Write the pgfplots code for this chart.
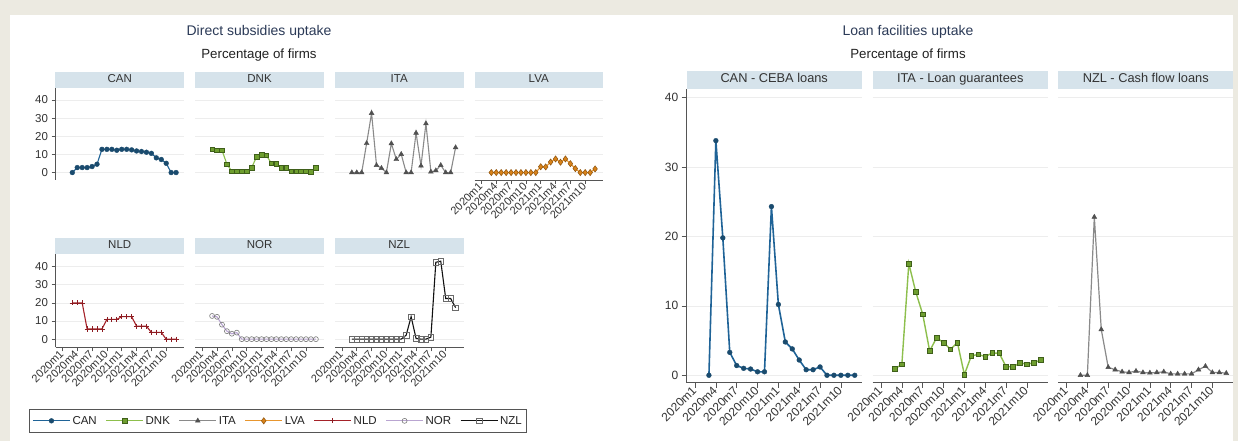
\documentclass[border=0pt]{standalone}
\usepackage{pgfplots}
\pgfplotsset{compat=1.18}
\usepackage{fontspec}
\setmainfont{Liberation Sans}
\definecolor{bg}{HTML}{ECEAE1}
\definecolor{hdr}{HTML}{D6E3EB}
\definecolor{gridc}{HTML}{EDEDED}
\definecolor{axc}{HTML}{555555}
\definecolor{txt}{HTML}{333333}
\definecolor{titc}{HTML}{2B3A57}
\definecolor{subc}{HTML}{222222}
\definecolor{legc}{HTML}{555555}
\definecolor{canl}{HTML}{1F6397}
\definecolor{canm}{HTML}{1A4B6E}
\definecolor{dnkl}{HTML}{8DBF4C}
\definecolor{dnkm}{HTML}{6E9E2F}
\definecolor{dnke}{HTML}{3F5F1A}
\definecolor{ital}{HTML}{8A8A8A}
\definecolor{itam}{HTML}{505050}
\definecolor{lval}{HTML}{E8962E}
\definecolor{lvam}{HTML}{D8821A}
\definecolor{lvae}{HTML}{8C520C}
\definecolor{nldl}{HTML}{A52229}
\definecolor{nldm}{HTML}{8E1C22}
\definecolor{norl}{HTML}{B9A5D1}
\definecolor{norm}{HTML}{7A7A7A}
\definecolor{nzll}{HTML}{111111}
\definecolor{nzlm}{HTML}{6A6A6A}
\pgfplotsset{
  panel/.style={
    scale only axis, anchor=south west, clip=false,
    axis lines*=left, axis line style={-, draw=axc, line width=0.7pt},
    tick style={draw=axc, line width=0.7pt},
    tick align=outside, major tick length=4pt,
    xtick={0,3,...,21},
    xticklabels={2020m1,2020m4,2020m7,2020m10,2021m1,2021m4,2021m7,2021m10},
    ytick={0,10,20,30,40},
    ymajorgrids, major grid style={draw=gridc, line width=0.7pt},
    /pgf/number format/assume math mode=true,
    every axis title/.style={at={(0.5,1)}, anchor=south, fill=hdr, inner sep=0pt, text=txt, text height=0.72em, text depth=0.22em},
    tick label style={text=txt},
  },
  lpanel/.style={panel, width=128.5pt, xmin=-1.4, xmax=24.6,
    title style={minimum width=128.5pt, minimum height=16pt, font=\fontsize{11.5}{13}\selectfont},
    xticklabel style={rotate=45, anchor=east, font=\fontsize{11}{12}\selectfont, inner sep=1pt},
    yticklabel style={font=\fontsize{11.5}{12}\selectfont},
  },
  top/.style={lpanel, height=92pt, ymin=-4.1, ymax=46.6},
  bot/.style={lpanel, height=93.2pt, ymin=-4.6, ymax=46.8},
  rpanel/.style={panel, width=175pt, height=293.4pt, xmin=-1.2, xmax=24, ymin=-1.07, ymax=41.2,
    title style={minimum width=175pt, minimum height=17.6pt, font=\fontsize{12.8}{14}\selectfont},
    xticklabel style={rotate=45, anchor=east, font=\fontsize{12}{14}\selectfont, inner sep=1pt},
    yticklabel style={font=\fontsize{12}{14}\selectfont},
    major tick length=5pt,
  },
  noy/.style={y axis line style={draw=none}, ytick style={draw=none}, yticklabels={}},
  nox/.style={x axis line style={draw=none}, xtick style={draw=none}, xticklabels={}},
  canst/.style={color=canl, line width=1.1pt, mark=*, mark size=2.4pt, mark options={fill=canm, draw=canm, line width=0.4pt}},
  dnkst/.style={color=dnkl, line width=1.1pt, mark=square*, mark size=2.3pt, mark options={fill=dnkm, draw=dnke, line width=0.6pt}},
  itast/.style={color=ital, line width=1.1pt, mark=triangle*, mark size=2.8pt, mark options={fill=itam, draw=itam, line width=0.4pt}},
  lvast/.style={color=lval, line width=1.1pt, mark=diamond*, mark size=3.1pt, mark options={fill=lvam, draw=lvae, line width=0.5pt}},
  nldst/.style={color=nldl, line width=1.1pt, mark=+, mark size=2.6pt, mark options={draw=nldm, line width=0.7pt}},
  norst/.style={color=norl, line width=1.1pt, mark=o, mark size=2.5pt, mark options={draw=norm, fill=white, line width=0.6pt}},
  nzlst/.style={color=nzll, line width=1.1pt, mark=square, mark size=2.8pt, mark options={draw=nzlm, line width=0.6pt}},
}
\begin{document}
\begin{tikzpicture}[x=1pt,y=1pt]
\fill[bg] (0,0) rectangle (1238,441);
\fill[white] (10,0) rectangle (1233,426);
\path[use as bounding box] (0,0) rectangle (1238,441);

\node[font=\fontsize{14}{16}\selectfont, text=titc] at (259,409) {Direct subsidies uptake};
\node[font=\fontsize{13.3}{15}\selectfont, text=subc] at (259,386) {Percentage of firms};
\node[font=\fontsize{14}{16}\selectfont, text=titc] at (908,409) {Loan facilities uptake};
\node[font=\fontsize{13.3}{15}\selectfont, text=subc] at (908,386) {Percentage of firms};

% ---- Direct subsidies: top row
\begin{axis}[top, nox, at={(55.5pt,261pt)}, title={CAN}]
\addplot[canst] coordinates {(2,0) (3,2.75) (4,2.75) (5,2.75) (6,3.3) (7,4.6) (8,12.8) (9,12.8) (10,12.8) (11,12.3) (12,12.8) (13,12.8) (14,12.5) (15,11.9) (16,11.6) (17,11.2) (18,10.6) (19,8.1) (20,7.2) (21,5.1) (22,0) (23,0)};
\end{axis}
\begin{axis}[top, nox, noy, at={(195.3pt,261pt)}, title={DNK}]
\addplot[dnkst] coordinates {(2,12.8) (3,12.3) (4,12.3) (5,4.6) (6,0.7) (7,0.7) (8,0.7) (9,0.7) (10,2.75) (11,8.6) (12,9.9) (13,9.4) (14,5.1) (15,4.8) (16,2.75) (17,2.75) (18,0.7) (19,0.7) (20,0.7) (21,0.7) (22,0.4) (23,2.75)};
\end{axis}
\begin{axis}[top, nox, noy, at={(335pt,261pt)}, title={ITA}]
\addplot[itast] coordinates {(2,0) (3,0) (4,0) (5,16.1) (6,32.7) (7,4.0) (8,2.4) (9,0) (10,16.0) (11,7.3) (12,10.1) (13,0) (14,0) (15,21.8) (16,3.7) (17,27.0) (18,0.4) (19,1.1) (20,4.0) (21,0) (22,0) (23,13.8)};
\end{axis}
\begin{axis}[top, noy, at={(474.5pt,261pt)}, title={LVA}]
\addplot[lvast] coordinates {(2,0) (3,0) (4,0) (5,0) (6,0) (7,0) (8,0) (9,0) (10,0) (11,0) (12,3.2) (13,3.1) (14,5.8) (15,7.5) (16,5.7) (17,7.5) (18,4.9) (19,2.2) (20,0) (21,0) (22,0) (23,2.0)};
\end{axis}

% ---- Direct subsidies: bottom row
\begin{axis}[bot, at={(55.5pt,93.5pt)}, title={NLD}]
\addplot[nldst] coordinates {(2,20) (3,20) (4,20) (5,5.6) (6,5.6) (7,5.6) (8,5.6) (9,10.9) (10,10.9) (11,10.9) (12,12.4) (13,12.4) (14,12.4) (15,7.2) (16,7.2) (17,7.2) (18,3.7) (19,3.7) (20,3.7) (21,0) (22,0) (23,0)};
\end{axis}
\begin{axis}[bot, noy, at={(195.3pt,93.5pt)}, title={NOR}]
\addplot[norst] coordinates {(2,12.8) (3,12.3) (4,8.0) (5,4.4) (6,3.0) (7,3.6) (8,0) (9,0) (10,0) (11,0) (12,0) (13,0) (14,0) (15,0) (16,0) (17,0) (18,0) (19,0) (20,0) (21,0) (22,0) (23,0)};
\end{axis}
\begin{axis}[bot, noy, at={(335pt,93.5pt)}, title={NZL}]
\addplot[nzlst] coordinates {(2,0) (3,0) (4,0) (5,0) (6,0) (7,0) (8,0) (9,0) (10,0) (11,0) (12,0) (13,2.2) (14,12.4) (15,0.4) (16,0) (17,0) (18,1.1) (19,42.4) (20,43.0) (21,22.4) (22,22.4) (23,17.4)};
\end{axis}

% ---- Legend
\begin{axis}[at={(29pt,8pt)}, anchor=south west, hide axis, scale only axis, width=10pt, height=10pt,
  xmin=0, xmax=1, ymin=0, ymax=1,
  legend columns=7,
  legend style={at={(0,0)}, anchor=south west, draw=legc, line width=0.8pt, text=subc,
    font=\fontsize{11.5}{13}\selectfont, inner xsep=3pt, inner ysep=5pt,
    /tikz/every even column/.append style={column sep=6.8pt}},
  legend image code/.code={\draw[mark repeat=2, mark phase=2, #1] plot coordinates {(0pt,0pt) (18.5pt,0pt) (37pt,0pt)};}]
\addlegendimage{canst}\addlegendentry{CAN}
\addlegendimage{dnkst}\addlegendentry{DNK}
\addlegendimage{itast}\addlegendentry{ITA}
\addlegendimage{lvast}\addlegendentry{LVA}
\addlegendimage{nldst}\addlegendentry{NLD}
\addlegendimage{norst}\addlegendentry{NOR}
\addlegendimage{nzlst}\addlegendentry{NZL}
\end{axis}

% ---- Loan facilities
\begin{axis}[rpanel, at={(686.7pt,58.3pt)}, title={CAN - CEBA loans}]
\addplot[canst, line width=1.6pt] coordinates {(2,0) (3,33.8) (4,19.8) (5,3.3) (6,1.4) (7,1.0) (8,0.9) (9,0.5) (10,0.5) (11,24.3) (12,10.2) (13,4.8) (14,3.8) (15,2.2) (16,0.8) (17,0.8) (18,1.2) (19,0) (20,0) (21,0) (22,0) (23,0)};
\end{axis}
\begin{axis}[rpanel, noy, at={(872.7pt,58.3pt)}, title={ITA - Loan guarantees}]
\addplot[dnkst, line width=1.4pt] coordinates {(2,0.9) (3,1.6) (4,16.1) (5,12.0) (6,8.8) (7,3.5) (8,5.4) (9,4.7) (10,3.75) (11,4.7) (12,0.1) (13,2.8) (14,3.0) (15,2.7) (16,3.2) (17,3.2) (18,1.25) (19,1.2) (20,1.8) (21,1.6) (22,1.8) (23,2.2)};
\end{axis}
\begin{axis}[rpanel, noy, at={(1058.2pt,58.3pt)}, title={NZL - Cash flow loans}]
\addplot[itast, line width=1.2pt] coordinates {(2,0) (3,0) (4,22.8) (5,6.6) (6,1.15) (7,0.8) (8,0.5) (9,0.4) (10,0.6) (11,0.4) (12,0.35) (13,0.4) (14,0.5) (15,0.2) (16,0.2) (17,0.2) (18,0.2) (19,0.8) (20,1.3) (21,0.4) (22,0.4) (23,0.3)};
\end{axis}
\end{tikzpicture}
\end{document}
